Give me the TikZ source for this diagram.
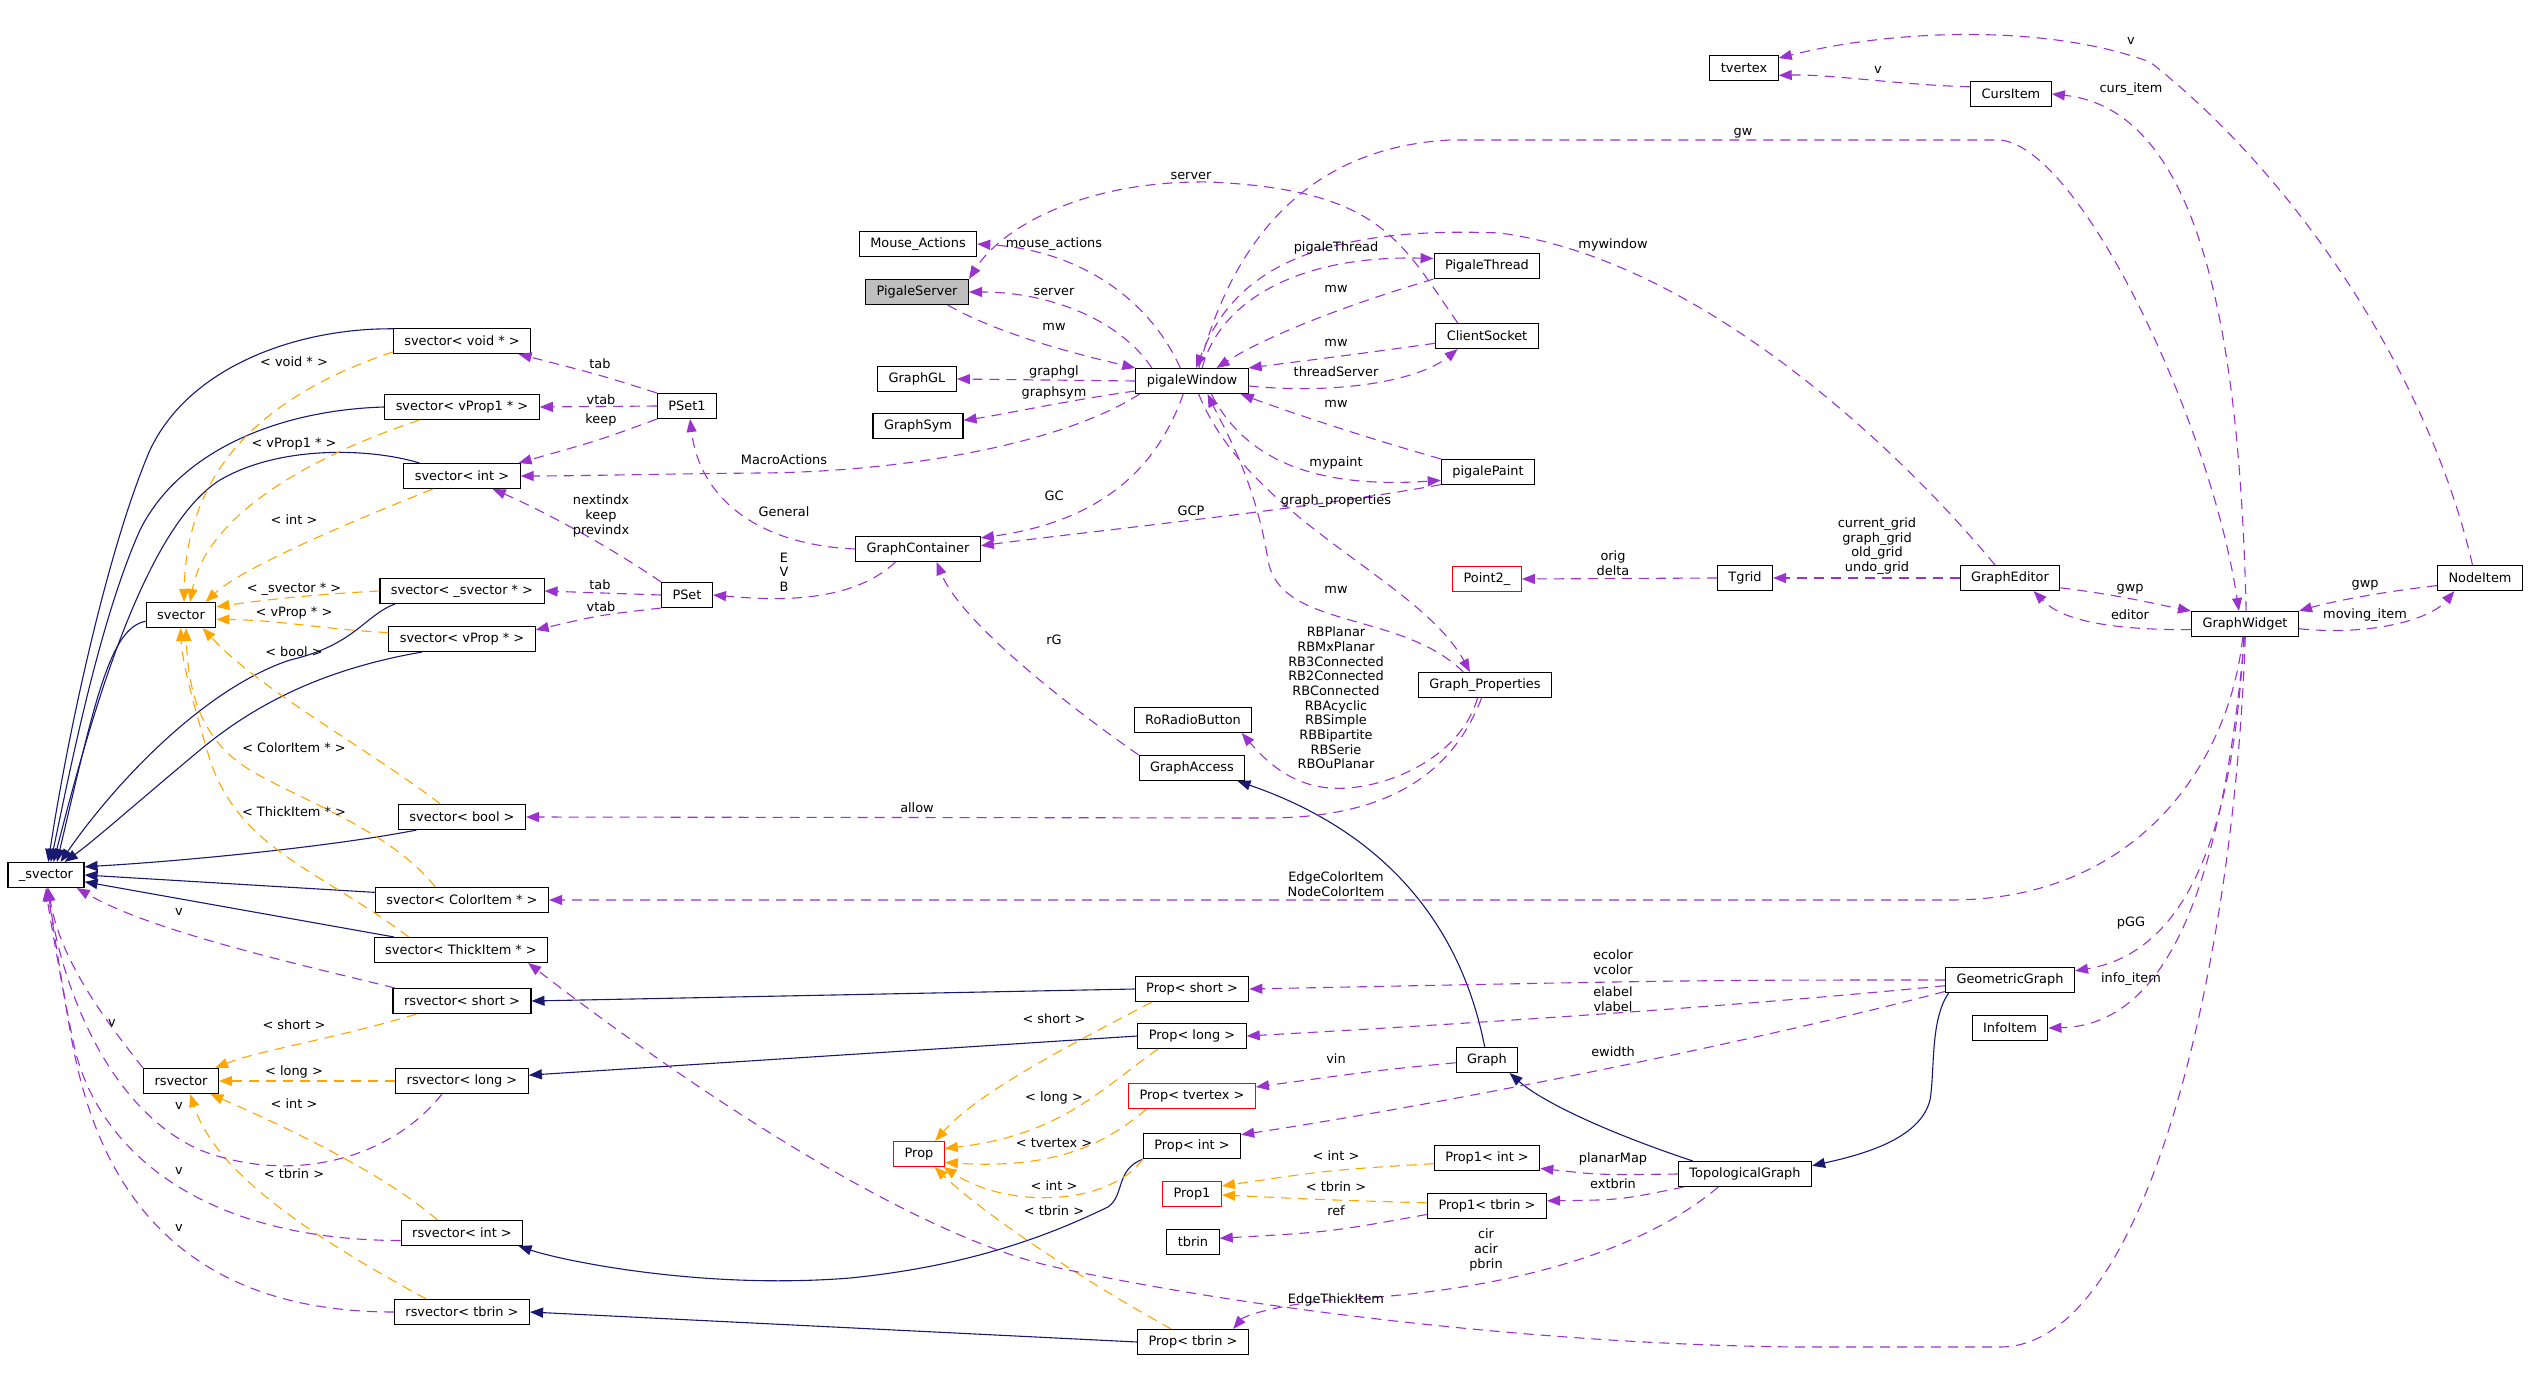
\documentclass[tikz,border=0pt]{standalone}
\usepackage{fontspec}
\setmainfont{DejaVu Sans}
\usetikzlibrary{arrows.meta}
\definecolor{navy}{HTML}{191970}
\definecolor{orchid}{HTML}{9A32CD}
\definecolor{tmplorange}{HTML}{FFA500}
\definecolor{srvgray}{HTML}{BFBFBF}
\begin{document}
\begin{tikzpicture}[x=1pt,y=-1pt,font=\fontsize{12.9}{14.7}\selectfont,
  cls/.style={draw,line width=1.1pt,fill=white,minimum height=25pt,inner xsep=11pt,inner ysep=0pt},
  redcls/.style={cls,draw=red},
  inh/.style={navy,line width=1.1pt,-{Triangle[length=13pt,width=10pt]}},
  member/.style={orchid,line width=1.1pt,dash pattern=on 10pt off 7pt,-{Triangle[length=13pt,width=10pt]}},
  tmpl/.style={tmplorange,line width=1.1pt,dash pattern=on 10pt off 7pt,-{Triangle[length=13pt,width=10pt]}},
  lbl/.style={inner sep=0pt,align=center}]

\useasboundingbox (0,0) rectangle (2528,1389);

\node[cls] (tvx) at (1744,68) {tvertex};
\node[cls] (curs) at (2011,94) {CursItem};
\node[cls] (mouse) at (918,244) {Mouse\_Actions};
\node[cls,fill=srvgray] (server) at (917,292) {PigaleServer};
\node[cls] (thread) at (1487,266) {PigaleThread};
\node[cls] (client) at (1487,336) {ClientSocket};
\node[cls] (ggl) at (917,379) {GraphGL};
\node[cls] (pw) at (1192,381) {pigaleWindow};
\node[cls] (gsym) at (918,426) {GraphSym};
\node[cls] (svoid) at (462,341) {svector< void * >};
\node[cls] (svprop1) at (462,407) {svector< vProp1 * >};
\node[cls] (pset1) at (687,406) {PSet1};
\node[cls] (svint) at (462,476) {svector< int >};
\node[cls] (paint) at (1488,472) {pigalePaint};
\node[cls] (gcont) at (918,549) {GraphContainer};
\node[cls] (svsv) at (462,591) {svector< \_svector * >};
\node[cls] (pset) at (687,595) {PSet};
\node[cls] (svec) at (181,615) {svector};
\node[cls] (svprop) at (462,639) {svector< vProp * >};
\node[redcls] (point) at (1487,579) {Point2\_};
\node[cls] (tgrid) at (1745,578) {Tgrid};
\node[cls] (geditor) at (2010,578) {GraphEditor};
\node[cls] (gwidget) at (2245,624) {GraphWidget};
\node[cls] (nitem) at (2480,578) {NodeItem};
\node[cls] (gprop) at (1485,685) {Graph\_Properties};
\node[cls] (radio) at (1193,720) {RoRadioButton};
\node[cls] (gaccess) at (1192,768) {GraphAccess};
\node[cls] (svbool) at (462,817) {svector< bool >};
\node[cls] (usv) at (46,875) {\_svector};
\node[cls] (svcolor) at (462,900) {svector< ColorItem * >};
\node[cls] (svthick) at (461,950) {svector< ThickItem * >};
\node[cls] (rsshort) at (462,1001) {rsvector< short >};
\node[cls] (pshort) at (1192,989) {Prop< short >};
\node[cls] (geom) at (2010,980) {GeometricGraph};
\node[cls] (plong) at (1192,1036) {Prop< long >};
\node[cls] (info) at (2010,1028) {InfoItem};
\node[cls] (rsvec) at (181,1081) {rsvector};
\node[cls] (rslong) at (462,1081) {rsvector< long >};
\node[cls] (graph) at (1487,1060) {Graph};
\node[redcls] (ptvertex) at (1192,1096) {Prop< tvertex >};
\node[cls] (pint) at (1192,1146) {Prop< int >};
\node[redcls] (prop) at (919,1154) {Prop};
\node[cls] (p1int) at (1487,1158) {Prop1< int >};
\node[cls] (topo) at (1745,1174) {TopologicalGraph};
\node[redcls] (prop1) at (1192,1194) {Prop1};
\node[cls] (p1tbrin) at (1487,1206) {Prop1< tbrin >};
\node[cls] (tbrin) at (1193,1242) {tbrin};
\node[cls] (rsint) at (462,1233) {rsvector< int >};
\node[cls] (rstbrin) at (462,1312) {rsvector< tbrin >};
\node[cls] (ptbrin) at (1193,1342) {Prop< tbrin >};

\draw[inh] (svoid.170) .. controls (300,328) and (190,365) .. (150,450) .. controls (105,555) and (65,750) .. (usv.80);
\draw[inh] (svprop1.west) .. controls (280,410) and (180,450) .. (140,530) .. controls (100,620) and (72,760) .. (usv.70);
\draw[inh] (svint.163) .. controls (370,448) and (280,445) .. (220,480) .. controls (140,530) and (85,740) .. (usv.60);
\draw[inh] (svec.190) .. controls (110,628) and (95,700) .. (usv.50);
\draw[inh] (svsv.191) .. controls (365,615) and (355,645) .. (290,660) .. controls (200,690) and (110,790) .. (usv.42);
\draw[inh] (svprop.198) .. controls (330,668) and (260,700) .. (200,750) .. controls (140,800) and (95,840) .. (usv.35);
\draw[inh] (svbool.196) .. controls (340,845) and (200,860) .. (usv.12);
\draw[inh] (svcolor.175) -- (usv.east);
\draw[inh] (svthick.169) -- (usv.-10);
\draw[inh] (pshort.west) -- (rsshort.east);
\draw[inh] (plong.west) -- (rslong.5);
\draw[inh] (pint.south west) .. controls (1115,1170) and (1125,1195) .. (1108,1207) .. controls (1060,1230) and (980,1265) .. (850,1278) .. controls (700,1290) and (560,1260) .. (rsint.-13);
\draw[inh] (ptbrin.west) -- (rstbrin.east);
\draw[inh] (graph.100) .. controls (1460,920) and (1380,830) .. (gaccess.-16);
\draw[inh] (topo.166) .. controls (1600,1130) and (1540,1100) .. (graph.-30);
\draw[inh] (geom.192) .. controls (1930,1020) and (1935,1070) .. (1930,1100) .. controls (1920,1140) and (1860,1155) .. (topo.7);

\draw[tmpl] (svoid.189) .. controls (250,400) and (186,480) .. (svec.77);
\draw[tmpl] (svprop1.197) .. controls (300,460) and (205,520) .. (svec.55);
\draw[tmpl] (svint.204) .. controls (330,530) and (240,570) .. (svec.28);
\draw[tmpl] (svsv.west) .. controls (300,595) and (250,602) .. (svec.13);
\draw[tmpl] (svprop.175) .. controls (330,630) and (280,620) .. (svec.-7);
\draw[tmpl] (svbool.149) .. controls (370,750) and (260,690) .. (svec.-31);
\draw[tmpl] (svcolor.154) .. controls (390,830) and (300,800) .. (250,770) .. controls (200,740) and (188,690) .. (svec.-69);
\draw[tmpl] (svthick.166) .. controls (320,870) and (240,850) .. (210,760) .. controls (192,700) and (182,660) .. (svec.-92);
\draw[tmpl] (rsshort.196) .. controls (330,1040) and (260,1050) .. (rsvec.21);
\draw[tmpl] (rslong.west) -- (rsvec.east);
\draw[tmpl] (rsint.152) .. controls (380,1170) and (270,1120) .. (rsvec.-24);
\draw[tmpl] (rstbrin.160) .. controls (300,1230) and (215,1170) .. (rsvec.-55);
\draw[tmpl] (pshort.198) .. controls (1080,1040) and (980,1090) .. (prop.39);
\draw[tmpl] (plong.201) .. controls (1100,1090) and (1060,1135) .. (prop.12);
\draw[tmpl] (ptvertex.196) .. controls (1110,1140) and (1060,1170) .. (prop.-18);
\draw[tmpl] (pint.south west) .. controls (1110,1205) and (1010,1210) .. (prop.-28);
\draw[tmpl] (ptbrin.149) .. controls (1100,1290) and (990,1220) .. (prop.-40);
\draw[tmpl] (p1int.186) .. controls (1330,1170) .. (prop1.15);
\draw[tmpl] (p1tbrin.177) .. controls (1330,1200) .. (prop1.-2);

\draw[member] (rsshort.169) .. controls (280,960) and (150,930) .. (usv.-23);
\draw[member] (rsvec.north west) .. controls (105,1020) and (60,960) .. (usv.-80);
\draw[member] (rslong.213) .. controls (390,1160) and (290,1185) .. (200,1150) .. controls (110,1110) and (62,990) .. (usv.-83);
\draw[member] (rsint.187) .. controls (200,1240) and (100,1150) .. (75,1050) .. controls (62,990) and (54,930) .. (usv.-86);
\draw[member] (rstbrin.west) .. controls (150,1312) and (90,1150) .. (70,1030) .. controls (58,960) and (50,920) .. (usv.-90);
\draw[member] (pset1.north west) .. controls (600,375) .. (svoid.-13);
\draw[member] (pset1.west) -- (svprop1.east);
\draw[member] (pset1.south west) .. controls (600,440) .. (svint.13);
\draw[member] (pset.north west) .. controls (600,540) and (530,505) .. (svint.-23);
\draw[member] (pset.west) -- (svsv.east);
\draw[member] (pset.south west) .. controls (600,615) .. (svprop.7);
\draw[member] (gcont.west) .. controls (760,545) and (700,500) .. (pset1.-77);
\draw[member] (gcont.210) .. controls (850,605) and (770,600) .. (pset.east);
\draw[member] (gaccess.north west) .. controls (1060,700) and (960,620) .. (gcont.-35);
\draw[member] (pw.236) .. controls (1160,460) and (1110,520) .. (gcont.10);
\draw[member] (paint.195) .. controls (1300,510) and (1100,530) .. (gcont.3);
\draw[member] (pw.132) .. controls (1150,300) and (1080,250) .. (mouse.east);
\draw[member] (pw.162) .. controls (1120,320) and (1050,292) .. (server.east);
\draw[member] (server.-23) .. controls (1000,335) and (1080,355) .. (pw.north west);
\draw[member] (pw.west) -- (ggl.east);
\draw[member] (pw.190) .. controls (1070,400) and (1000,415) .. (gsym.7);
\draw[member] (pw.194) .. controls (1060,445) and (900,472) .. (760,473) .. controls (650,474) and (580,476) .. (svint.east);
\draw[member] (pw.52) .. controls (1220,300) and (1300,255) .. (thread.172);
\draw[member] (thread.south west) .. controls (1330,310) and (1260,340) .. (pw.28);
\draw[member] (client.188) .. controls (1350,355) .. (pw.north east);
\draw[member] (pw.-5) .. controls (1340,395) and (1420,380) .. (client.204);
\draw[member] (paint.north west) .. controls (1340,430) and (1270,405) .. (pw.-15);
\draw[member] (pw.-34) .. controls (1240,450) and (1300,490) .. (paint.190);
\draw[member] (pw.-63) .. controls (1250,520) and (1420,580) .. (gprop.139);
\draw[member] (gprop.149) .. controls (1400,610) and (1280,630) .. (1268,560) .. controls (1255,480) and (1225,430) .. (pw.-40);
\draw[member] (client.156) .. controls (1400,240) and (1380,190) .. (1210,182) .. controls (1080,180) and (1000,230) .. (server.north east);
\draw[member] (pw.62) .. controls (1230,250) and (1300,148) .. (1450,140) -- (2000,140) .. controls (2080,147) and (2210,420) .. (gwidget.115);
\draw[member] (geditor.139) .. controls (1900,450) and (1700,260) .. (1500,233) .. controls (1300,225) and (1230,280) .. (pw.72);
\draw[member] (gwidget.85) .. controls (2240,350) and (2205,110) .. (curs.east);
\draw[member] (curs.170) .. controls (1900,85) and (1830,74) .. (tvx.-12);
\draw[member] (nitem.120) .. controls (2430,380) and (2300,180) .. (2150,62) .. controls (2050,25) and (1900,28) .. (tvx.16);
\draw[member] (geditor.west) -- (tgrid.east);
\draw[member] (tgrid.west) -- (point.east);
\draw[member] (geditor.-11) .. controls (2120,595) and (2160,605) .. (gwidget.north west);
\draw[member] (gwidget.186) .. controls (2100,630) and (2060,618) .. (geditor.-29);
\draw[member] (nitem.190) .. controls (2380,592) and (2330,602) .. (gwidget.north east);
\draw[member] (gwidget.-5) .. controls (2370,636) and (2430,620) .. (nitem.207);
\draw[member] (gwidget.-100) .. controls (2230,760) and (2140,900) .. (1950,900) -- (svcolor.east);
\draw[member] (gwidget.-95) .. controls (2235,800) and (2200,950) .. (geom.8);
\draw[member] (gwidget.-92) .. controls (2225,850) and (2180,1025) .. (info.east);
\draw[member] (gwidget.-89) .. controls (2235,950) and (2150,1347) .. (2000,1347) -- (1800,1347) .. controls (1550,1345) and (1250,1310) .. (1050,1266) .. controls (900,1230) and (680,1080) .. (svthick.-11);
\draw[member] (gprop.-120) .. controls (1460,760) and (1380,792) .. (1330,788) .. controls (1290,785) and (1265,760) .. (radio.-15);
\draw[member] (gprop.-105) .. controls (1450,780) and (1380,817) .. (1270,818) -- (svbool.east);
\draw[member] (geom.west) .. controls (1700,980) .. (pshort.east);
\draw[member] (geom.185) .. controls (1750,1005) and (1500,1022) .. (plong.east);
\draw[member] (geom.190) .. controls (1800,1030) and (1500,1095) .. (pint.13);
\draw[member] (graph.185) .. controls (1380,1070) .. (ptvertex.8);
\draw[member] (topo.west) .. controls (1600,1175) .. (p1int.-11);
\draw[member] (topo.192) .. controls (1620,1200) .. (p1tbrin.5);
\draw[member] (p1tbrin.188) .. controls (1330,1232) .. (tbrin.8);
\draw[member] (topo.206) .. controls (1620,1270) and (1450,1295) .. (1330,1300) .. controls (1280,1305) and (1245,1315) .. (ptbrin.18);

\foreach \y/\t [count=\i] in {362/{< void * >},444/{< vProp1 * >},520/{< int >},589/{< \_svector * >},613/{< vProp * >},652/{< bool >},748/{< ColorItem * >},812/{< ThickItem * >}}
  \node[lbl] (tl\i) at (294,\y) {\t};
\foreach \y/\t [count=\i] in {1025/{< short >},1072/{< long >},1104/{< int >},1174/{< tbrin >}}
  \node[lbl] (rl\i) at (294,\y) {\t};
\foreach \x/\y [count=\i] in {179/912,112/1023,179/1106,179/1171,179/1228}
  \node[lbl] (vl\i) at (\x,\y) {v};
\foreach \y/\t [count=\i] in {1019/{< short >},1098/{< long >},1143/{< tvertex >},1186/{< int >},1211/{< tbrin >}}
  \node[lbl] (pl\i) at (1054,\y) {\t};

\node[lbl] (lTab) at (600,364) {tab};
\node[lbl] (lVtab) at (601,400) {vtab};
\node[lbl] (lKeep) at (601,420) {keep};
\node[lbl] (lNext) at (601,516) {nextindx\\keep\\previndx};
\node[lbl] (lTab2) at (600,585) {tab};
\node[lbl] (lVtab2) at (601,607) {vtab};
\node[lbl] (lMacro) at (784,460) {MacroActions};
\node[lbl] (lGeneral) at (784,512) {General};
\node[lbl] (lEVB) at (784,572) {E\\V\\B};
\node[lbl] (lMouse) at (1054,244) {mouse\_actions};
\node[lbl] (lServer) at (1054,292) {server};
\node[lbl] (lMwS) at (1054,327) {mw};
\node[lbl] (lGl) at (1054,372) {graphgl};
\node[lbl] (lSym) at (1054,393) {graphsym};
\node[lbl] (lGC) at (1054,496) {GC};
\node[lbl] (lRG) at (1054,640) {rG};
\node[lbl] (lServer2) at (1191,176) {server};
\node[lbl] (lGCP) at (1191,511) {GCP};
\node[lbl] (lThread) at (1336,248) {pigaleThread};
\node[lbl] (lMwT) at (1336,289) {mw};
\node[lbl] (lMwC) at (1336,343) {mw};
\node[lbl] (lTS) at (1336,372) {threadServer};
\node[lbl] (lMwP) at (1336,404) {mw};
\node[lbl] (lPaint) at (1336,463) {mypaint};
\node[lbl] (lGP) at (1336,501) {graph\_properties};
\node[lbl] (lMwG) at (1336,590) {mw};
\node[lbl] (lRB) at (1336,698) {RBPlanar\\RBMxPlanar\\RB3Connected\\RB2Connected\\RBConnected\\RBAcyclic\\RBSimple\\RBBipartite\\RBSerie\\RBOuPlanar};
\node[lbl] (lAllow) at (917,808) {allow};
\node[lbl] (lColor) at (1336,884) {EdgeColorItem\\NodeColorItem};
\node[lbl] (lVin) at (1336,1059) {vin};
\node[lbl] (lInt) at (1336,1156) {< int >};
\node[lbl] (lTbrin) at (1336,1187) {< tbrin >};
\node[lbl] (lRef) at (1336,1211) {ref};
\node[lbl] (lThick) at (1336,1300) {EdgeThickItem};
\node[lbl] (lCir) at (1486,1250) {cir\\acir\\pbrin};
\node[lbl] (lWin) at (1613,245) {mywindow};
\node[lbl] (lOrig) at (1613,563) {orig\\delta};
\node[lbl] (lEcol) at (1613,962) {ecolor\\vcolor};
\node[lbl] (lElab) at (1613,999) {elabel\\vlabel};
\node[lbl] (lEw) at (1613,1052) {ewidth};
\node[lbl] (lPlanar) at (1613,1159) {planarMap};
\node[lbl] (lExt) at (1613,1184) {extbrin};
\node[lbl] (lGw) at (1743,133) {gw};
\node[lbl] (lV) at (1878,70) {v};
\node[lbl] (lGrid) at (1877,546) {current\_grid\\graph\_grid\\old\_grid\\undo\_grid};
\node[lbl] (lV2) at (2131,41) {v};
\node[lbl] (lCurs) at (2131,89) {curs\_item};
\node[lbl] (lGwp) at (2130,589) {gwp};
\node[lbl] (lEditor) at (2130,615) {editor};
\node[lbl] (lPGG) at (2131,923) {pGG};
\node[lbl] (lInfo) at (2131,979) {info\_item};
\node[lbl] (lGwp2) at (2365,585) {gwp};
\node[lbl] (lMoving) at (2365,615) {moving\_item};

\end{tikzpicture}
\end{document}
